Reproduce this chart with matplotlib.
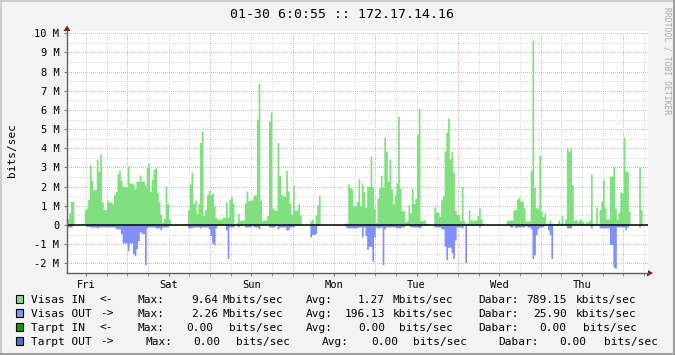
import numpy as np
import matplotlib
matplotlib.use("Agg")
import matplotlib.pyplot as plt
from matplotlib.patches import Rectangle, Polygon

plt.rcParams['font.family'] = ['DejaVu Sans Mono']

title = "01-30 6:0:55 :: 172.17.14.16"
ylabel = "bits/sec"
day_labels = ["Fri", "Sat", "Sun", "Mon", "Tue", "Wed", "Thu"]
ytick_vals = list(range(-2, 11))
ytick_labels = ["-2 M", "-1 M", "0", "1 M", "2 M", "3 M", "4 M", "5 M",
                "6 M", "7 M", "8 M", "9 M", "10 M"]
watermark = "RRDTOOL / TOBI OETIKER"

# 30-minute samples, Mbit/s
visas_in = [
    0.33, 0.63, 1.25, 1.22, 0, 0, 0.05, 0, 0, 0,
    0.8, 0.89, 1.35, 3.14, 2.34, 1.84, 1.84, 3.44, 2.81, 3.7,
    1.2, 0.8, 0.8, 1.3, 1.2, 1.2, 1.11, 1.58, 1.74, 2.67,
    2.86, 2.33, 2.01, 2.0, 2.0, 3.07, 2.19, 2.19, 2.14, 1.9,
    2.29, 2.29, 2.6, 2.29, 2.29, 2.08, 3.0, 3.23, 1.75, 2.4,
    2.9, 2.99, 1.72, 1.2, 0.57, 0.14, 0.35, 2.03, 1.11, 0.31,
    0, 0, 0.05, 0.05, 0, 0, 0.05, 0.05, 0.1, 0,
    0.8, 2.14, 2.76, 1.1, 1.3, 0.61, 1.11, 4.3, 4.9, 0.5,
    0.83, 1.58, 1.82, 1.6, 1.68, 1.0, 0.4, 0.31, 0.31, 0.31,
    0.4, 0.4, 1.2, 0.42, 1.34, 1.5, 1.15, 0, 0.14, 0.61,
    0.23, 0.26, 0.26, 1.15, 1.77, 1.27, 1.3, 1.3, 1.56, 1.56,
    5.52, 7.4, 1.3, 0.23, 0.26, 0.26, 0.5, 5.42, 5.9, 0.89,
    0.78, 0.78, 4.3, 2.6, 1.61, 1.51, 1.5, 2.85, 1.77, 1.15,
    0.57, 2.07, 0.78, 0.78, 1.1, 0.52, 0, 0, 0, 0,
    0, 0.23, 0.31, 0.05, 0.52, 1.06, 1.56, 0, 0, 0,
    0, 0, 0, 0, 0, 0, 0, 0, 0, 0,
    0, 0.1, 0.1, 2.14, 1.96, 1.86, 1.0, 1.0, 1.23, 2.41,
    1.0, 2.14, 1.75, 0.94, 2.03, 2.03, 3.6, 2.03, 0.89, 0.14,
    1.4, 1.93, 2.6, 1.96, 4.58, 3.85, 2.29, 3.44, 1.9, 1.1,
    1.58, 2.19, 5.68, 1.93, 0.75, 0.75, 0.17, 0.23, 1.06, 0.63,
    1.9, 1.11, 1.4, 4.74, 6.1, 0.23, 0.23, 0.28, 0.1, 0.05,
    0.05, 0, 0, 0.94, 0.68, 0.68, 0.45, 1.32, 1.53, 3.87,
    4.84, 5.57, 3.45, 3.85, 2.76, 0.76, 0.57, 0.54, 0.23, 2.01,
    0.23, 0.1, 0.1, 0.8, 0.26, 0.23, 0.26, 0.26, 0.49, 0.89,
    0.33, 0.1, 0, 0, 0, 0, 0, 0, 0, 0,
    0, 0, 0, 0, 0, 0.23, 0.26, 0.26, 0.26, 0.8,
    0.8, 1.35, 1.46, 1.25, 1.25, 0.89, 0.21, 0.21, 0.21, 2.86,
    9.64, 1.96, 0.89, 0.89, 3.65, 0.73, 0.45, 0.63, 0.1, 0.1,
    0.26, 0.1, 0, 0.05, 0.05, 0.26, 0.1, 0.49, 0.05, 0.31,
    4.0, 3.85, 4.0, 2.1, 0.23, 0.31, 0.16, 0.26, 0.31, 0.19,
    0.1, 0.16, 0.16, 0.26, 2.66, 0.1, 0.1, 0.94, 0.05, 0.8,
    1.25, 2.4, 0.89, 0.31, 0.31, 2.55, 2.55, 3.07, 0.89, 0.31,
    0.68, 1.72, 1.68, 4.58, 2.81, 2.81, 0.75, 0, 0, 0,
    0, 0, 3.02, 0.8, 0, 0,
]

visas_out = [
    0.1, 0.1, 0.1, 0, 0, 0, 0, 0, 0, 0,
    0, 0.08, 0.08, 0.08, 0.15, 0.1, 0.1, 0.15, 0.1, 0.1,
    0.1, 0.1, 0.1, 0.1, 0.1, 0.1, 0.1, 0.1, 0.2, 0.2,
    0.2, 0.45, 0.94, 0.94, 0.94, 1.34, 0.94, 0.94, 1.49, 1.61,
    1.23, 0.82, 0.35, 0.45, 0.45, 2.07, 0.15, 0.1, 0.1, 0.1,
    0.1, 0.15, 0.15, 0.15, 0.25, 0.1, 0.1, 0.1, 0.1, 0,
    0, 0, 0, 0, 0, 0, 0, 0, 0, 0,
    0.15, 0.15, 0.15, 0.1, 0.1, 0.1, 0.1, 0.15, 0.1, 0.1,
    0.1, 0.1, 0.2, 0.55, 0.94, 1.02, 0.15, 0, 0, 0,
    0, 0, 0.25, 1.75, 0.1, 0.1, 0.1, 0, 0, 0.1,
    0, 0, 0, 0.1, 0.1, 0.1, 0.1, 0, 0.1, 0.1,
    0.1, 0.2, 0, 0, 0, 0, 0, 0.1, 0.1, 0.1,
    0.1, 0, 0.2, 0.1, 0.1, 0.1, 0.1, 0.25, 0.25, 0.1,
    0.1, 0.1, 0, 0, 0, 0, 0, 0, 0, 0,
    0, 0.62, 0.5, 0.5, 0.45, 0, 0, 0, 0, 0,
    0, 0, 0, 0, 0, 0, 0, 0, 0, 0,
    0, 0.05, 0.15, 0.15, 0.15, 0.15, 0.15, 0.15, 0.15, 0.1,
    0.1, 0.62, 0.1, 0.54, 1.28, 1.11, 1.11, 1.89, 0.62, 0.1,
    0.15, 0.15, 0.1, 2.07, 0.2, 0.1, 0.1, 0.1, 0.1, 0.1,
    0.1, 0.15, 0.15, 0.15, 0.1, 0.1, 0, 0, 0, 0.1,
    0.1, 0.1, 0.1, 0.1, 0.15, 0.1, 0, 0, 0, 0,
    0, 0, 0, 0.1, 0.1, 0.1, 0.1, 0.2, 0.2, 1.11,
    1.8, 1.16, 1.16, 1.44, 1.75, 0.78, 0.1, 0.1, 0.1, 0.15,
    0, 1.96, 0, 0, 0, 0, 0, 0, 0, 0.1,
    0, 0, 0, 0, 0, 0, 0, 0, 0, 0,
    0, 0, 0, 0, 0, 0, 0, 0.1, 0.1, 0,
    0.15, 0.1, 0.1, 0.1, 0.1, 0.1, 0, 0.1, 0.1, 0.2,
    1.75, 1.55, 0.5, 0.2, 0.1, 0.1, 0.1, 0, 0, 0.25,
    0.5, 1.75, 0, 0, 0, 0, 0, 0, 0, 0,
    0.15, 0.15, 0.15, 0, 0, 0, 0, 0, 0, 0,
    0, 0, 0, 0, 0.15, 0, 0, 0, 0, 0.15,
    0.15, 0.15, 0.15, 0.15, 0.15, 1.02, 1.02, 2.19, 2.26, 0.1,
    0.1, 0.1, 0.1, 0.1, 0.25, 0.1, 0, 0, 0, 0,
    0, 0, 0.1, 0, 0, 0,
]

step_hours = 0.5
span_hours = 168.7
fri_midnight = 17.5   # hours after graph start

legend_names = ["Visas IN", "Visas OUT", "Tarpt IN", "Tarpt OUT"]
legend_arrows = ["<-", "->", "<-", "->"]
legend_colors = ["#80E080", "#8090FF", "#00A000", "#5070C8"]
legend_max = ["9.64", "2.26", "0.00", "0.00"]
legend_max_unit = ["Mbits/sec", "Mbits/sec", "bits/sec", "bits/sec"]
legend_avg = ["1.27", "196.13", "0.00", "0.00"]
legend_avg_unit = ["Mbits/sec", "kbits/sec", "bits/sec", "bits/sec"]
legend_cur = ["789.15", "25.90", "0.00", "0.00"]
legend_cur_unit = ["kbits/sec", "kbits/sec", "bits/sec", "bits/sec"]

W, H = 675, 355
fig = plt.figure(figsize=(W / 100, H / 100), dpi=100)
fig.patch.set_facecolor("#F3F3F3")

# overlay axes in pixel coordinates for frame, title and legend
ov = fig.add_axes([0, 0, 1, 1])
ov.set_xlim(0, W)
ov.set_ylim(H, 0)
ov.axis("off")
ov.add_patch(Rectangle((0, 0), W, 2, color="#CECECE", lw=0))
ov.add_patch(Rectangle((0, 0), 2, H, color="#CECECE", lw=0))
ov.add_patch(Rectangle((0, H - 2), W, 2, color="#9E9E9E", lw=0))
ov.add_patch(Rectangle((W - 2, 0), 2, H, color="#9E9E9E", lw=0))

ov.text(341.5, 18.3, title, ha="center", va="baseline", fontsize=9.5, color="black")
ov.text(667, 7, watermark, ha="center", va="top", rotation=270,
        fontsize=5.8, color="#A8A8A8")
ov.text(12, 150, ylabel, ha="center", va="center", rotation=90, fontsize=8)

# legend
fs = 8
baselines = [302.7, 316.7, 330.7, 344.7]
for i in range(4):
    b = baselines[i]
    ov.add_patch(Rectangle((15.5, b - 7.5), 7, 7.5, facecolor=legend_colors[i],
                           edgecolor="black", lw=0.8))
    ov.text(31, b, legend_names[i], fontsize=fs, va="baseline")
    ov.text(100, b, legend_arrows[i], fontsize=fs, va="baseline")
    if i < 3:
        mx, mv, mu = 137.7, (218.3 if i < 2 else 213.3), 283.3
        ax_, av, au = 306, 385, 453.3
        dx, dv, du = 478.3, 566.7, 636.7
    else:
        mx, mv, mu = 145, 220, 290
        ax_, av, au = 321.7, 398.3, 466.7
        dx, dv, du = 498.3, 586.7, 657.7
    ov.text(mx, b, "Max:", fontsize=fs, va="baseline")
    ov.text(mv, b, legend_max[i], fontsize=fs, va="baseline", ha="right")
    ov.text(mu, b, legend_max_unit[i], fontsize=fs, va="baseline", ha="right")
    ov.text(ax_, b, "Avg:", fontsize=fs, va="baseline")
    ov.text(av, b, legend_avg[i], fontsize=fs, va="baseline", ha="right")
    ov.text(au, b, legend_avg_unit[i], fontsize=fs, va="baseline", ha="right")
    ov.text(dx, b, "Dabar:", fontsize=fs, va="baseline")
    ov.text(dv, b, legend_cur[i], fontsize=fs, va="baseline", ha="right")
    ov.text(du, b, legend_cur_unit[i], fontsize=fs, va="baseline", ha="right")

# main plot
x0, x1, ytop, ybot = 67, 648, 31, 273
ax = fig.add_axes([x0 / W, (H - ybot) / H, (x1 - x0) / W, (ybot - ytop) / H])
ax.set_facecolor("white")
ax.set_xlim(0, span_hours)
ax.set_ylim(-2.504, 10.12)

grid_minor = "#DADADA"
grid_major = "#EDB0B0"
dots = (0, (1, 2))
minor_x = np.arange(fri_midnight - 12, span_hours, 6)
major_x = np.arange(fri_midnight, span_hours, 24)
for xv in minor_x:
    if not np.any(np.isclose(xv, major_x)):
        ax.axvline(xv, color=grid_minor, lw=0.72, ls=dots, antialiased=False, zorder=0)
for yv in np.arange(-1.5, 10, 1.0):
    ax.axhline(yv, color=grid_minor, lw=0.72, ls=dots, antialiased=False, zorder=0)
for xv in major_x:
    ax.axvline(xv, color=grid_major, lw=0.72, ls=dots, antialiased=False, zorder=0.5)
for yv in ytick_vals:
    ax.axhline(yv, color=grid_major, lw=0.72, ls=dots, antialiased=False, zorder=0.5)

n = len(visas_in)
edges = np.arange(n + 1) * step_hours
in_vals = np.append(visas_in, visas_in[-1])
out_vals = -np.append(visas_out, visas_out[-1])
ax.fill_between(edges, 0, in_vals, step="post", color="#80E080", lw=0, zorder=2)
ax.fill_between(edges, 0, out_vals, step="post", color="#8090FF", lw=0, zorder=2)
ax.axhline(0, color="black", lw=1.1, zorder=3)

for s in ["top", "right"]:
    ax.spines[s].set_visible(False)
for s in ["left", "bottom"]:
    ax.spines[s].set_color("#606060")
    ax.spines[s].set_linewidth(1.0)
    ax.spines[s].set_zorder(4)

ax.set_yticks(ytick_vals, labels=ytick_labels)
ax.tick_params(axis="y", length=2, color="#808080", pad=3.5, labelsize=7.5)
ax.set_xticks(np.arange(fri_midnight - 12, span_hours, 24), labels=day_labels)
ax.tick_params(axis="x", which="major", length=2, color="#808080", pad=3, labelsize=7.5)
ax.set_xticks(minor_x, minor=True)
ax.tick_params(axis="x", which="minor", length=2, color="#808080")

# axis arrows
ov.add_patch(Polygon([(63.5, 31), (70.5, 31), (67, 25.5)], closed=True,
                     color="#8B1A1A", lw=0))
ov.add_patch(Polygon([(647, 269.5), (647, 276.5), (653, 273)], closed=True,
                     color="#8B1A1A", lw=0))

fig.savefig("out.png", dpi=100, facecolor=fig.get_facecolor())
